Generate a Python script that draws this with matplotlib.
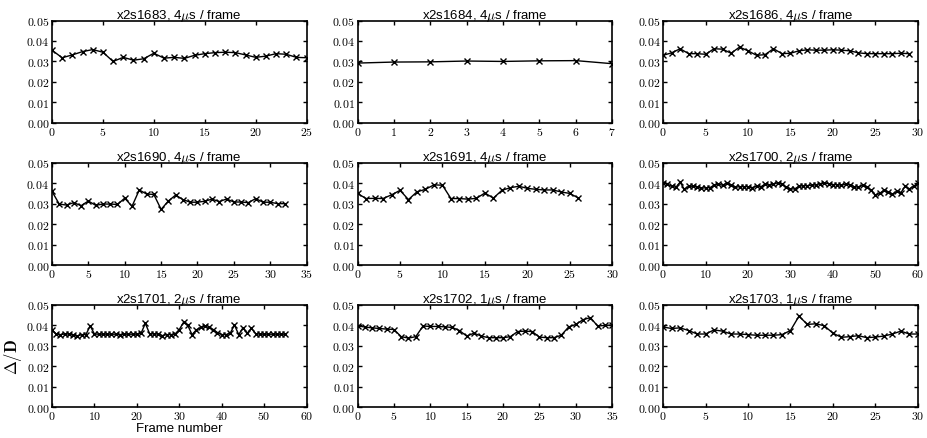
import matplotlib
matplotlib.use("Agg")
import matplotlib.pyplot as plt
from matplotlib.ticker import FuncFormatter, MultipleLocator

plt.rcParams['font.family'] = ['Liberation Sans', 'DejaVu Sans']
plt.rcParams['mathtext.fontset'] = 'cm'

# run names and time step per frame
runs = ["x2s1683", "x2s1684", "x2s1686",
        "x2s1690", "x2s1691", "x2s1700",
        "x2s1701", "x2s1702", "x2s1703"]
steps = [4, 4, 4, 4, 4, 2, 2, 1, 1]
xmax = [25, 7, 30, 35, 30, 60, 60, 35, 30]
xstep = [5, 1, 5, 5, 5, 10, 10, 5, 5]

# Delta/D per frame
d1683 = [0.0355, 0.0318, 0.0332, 0.0348, 0.0358, 0.0345, 0.0300, 0.0320, 0.0306,
         0.0313, 0.0340, 0.0316, 0.0320, 0.0315, 0.0330, 0.0338, 0.0343, 0.0345,
         0.0343, 0.0332, 0.0320, 0.0326, 0.0338, 0.0335, 0.0320, 0.0318]
d1684 = [0.0292, 0.0297, 0.0298, 0.0302, 0.0300, 0.0303, 0.0304, 0.0289]
d1686 = [0.0330, 0.0342, 0.0362, 0.0338, 0.0338, 0.0335, 0.0362, 0.0360, 0.0340,
         0.0370, 0.0352, 0.0330, 0.0333, 0.0362, 0.0338, 0.0340, 0.0352, 0.0357,
         0.0355, 0.0355, 0.0357, 0.0355, 0.0352, 0.0342, 0.0338, 0.0338, 0.0338,
         0.0338, 0.0340, 0.0338]
d1690 = [0.0360, 0.0298, 0.0293, 0.0305, 0.0290, 0.0313, 0.0292, 0.0298, 0.0298,
         0.0296, 0.0327, 0.0287, 0.0367, 0.0347, 0.0345, 0.0272, 0.0313, 0.0342,
         0.0320, 0.0307, 0.0307, 0.0312, 0.0322, 0.0310, 0.0323, 0.0308, 0.0308,
         0.0305, 0.0325, 0.0307, 0.0307, 0.0300, 0.0300]
d1691 = [0.0350, 0.0325, 0.0326, 0.0325, 0.0343, 0.0365, 0.0320, 0.0358, 0.0370,
         0.0392, 0.0390, 0.0325, 0.0325, 0.0322, 0.0326, 0.0352, 0.0327, 0.0365,
         0.0378, 0.0385, 0.0375, 0.0370, 0.0367, 0.0367, 0.0357, 0.0350, 0.0328]
d1700 = [0.0402, 0.0395, 0.0385, 0.0380, 0.0405, 0.0370, 0.0385, 0.0385, 0.0382,
         0.0375, 0.0378, 0.0378, 0.0390, 0.0395, 0.0390, 0.0400, 0.0390, 0.0380,
         0.0383, 0.0383, 0.0383, 0.0378, 0.0385, 0.0382, 0.0395, 0.0390, 0.0395,
         0.0402, 0.0395, 0.0380, 0.0372, 0.0372, 0.0385, 0.0388, 0.0388, 0.0390,
         0.0392, 0.0398, 0.0400, 0.0398, 0.0393, 0.0393, 0.0390, 0.0395, 0.0393,
         0.0383, 0.0380, 0.0390, 0.0380, 0.0365, 0.0342, 0.0350, 0.0365, 0.0355,
         0.0345, 0.0360, 0.0353, 0.0385, 0.0372, 0.0385, 0.0400]
d1701 = [0.0378, 0.0358, 0.0355, 0.0358, 0.0358, 0.0352, 0.0348, 0.0355, 0.0355,
         0.0398, 0.0358, 0.0357, 0.0357, 0.0357, 0.0357, 0.0357, 0.0355, 0.0357,
         0.0357, 0.0357, 0.0357, 0.0362, 0.0410, 0.0360, 0.0358, 0.0358, 0.0350,
         0.0355, 0.0355, 0.0358, 0.0380, 0.0415, 0.0400, 0.0355, 0.0378, 0.0390,
         0.0395, 0.0390, 0.0380, 0.0365, 0.0355, 0.0355, 0.0362, 0.0402, 0.0355,
         0.0388, 0.0362, 0.0385, 0.0360, 0.0357, 0.0357, 0.0357, 0.0357, 0.0357,
         0.0357, 0.0357]
d1702 = [0.0398, 0.0392, 0.0388, 0.0385, 0.0382, 0.0380, 0.0345, 0.0338, 0.0345,
         0.0397, 0.0395, 0.0395, 0.0393, 0.0390, 0.0375, 0.0348, 0.0362, 0.0348,
         0.0340, 0.0340, 0.0340, 0.0345, 0.0370, 0.0372, 0.0370, 0.0343, 0.0340,
         0.0340, 0.0352, 0.0392, 0.0405, 0.0428, 0.0438, 0.0397, 0.0400, 0.0402]
d1703 = [0.0392, 0.0385, 0.0388, 0.0375, 0.0358, 0.0358, 0.0378, 0.0372, 0.0358,
         0.0358, 0.0355, 0.0352, 0.0352, 0.0352, 0.0355, 0.0375, 0.0445, 0.0405,
         0.0408, 0.0398, 0.0362, 0.0342, 0.0345, 0.0350, 0.0340, 0.0343, 0.0348,
         0.0358, 0.0372, 0.0358, 0.0358]
series = [d1683, d1684, d1686, d1690, d1691, d1700, d1701, d1702, d1703]

fig, axes = plt.subplots(3, 3, figsize=(9.28, 4.39), dpi=100)
fig.subplots_adjust(left=0.056, right=0.989, bottom=0.07, top=0.951,
                    wspace=0.2, hspace=0.39)

yfmt = FuncFormatter(lambda v, p: r'$%.2f$' % v)
xfmt = FuncFormatter(lambda v, p: r'$%d$' % round(v))

for ax, run, step, xm, xs, d in zip(axes.flat, runs, steps, xmax, xstep, series):
    ax.plot(range(len(d)), d, color='black', marker='x', markersize=5,
            linewidth=1, markeredgewidth=1)
    ax.set_xlim(0, xm)
    ax.set_ylim(0, 0.05)
    ax.xaxis.set_major_locator(MultipleLocator(xs))
    ax.set_yticks([0, 0.01, 0.02, 0.03, 0.04, 0.05])
    ax.yaxis.set_major_formatter(yfmt)
    ax.xaxis.set_major_formatter(xfmt)
    ax.tick_params(direction='in', top=True, right=True, labelsize=8.5,
                   length=3, width=1, pad=2)
    for s in ax.spines.values():
        s.set_linewidth(1.2)
    ax.set_title(r'%s, %d$\mu$s / frame' % (run, step), fontsize=9.5, pad=2)

axes[2, 0].set_xlabel('Frame number', fontsize=9.5, labelpad=0)
axes[2, 0].set_ylabel(r'$\mathbf{\Delta/D}$', fontsize=12, labelpad=2)

fig.savefig('out.png', dpi=100)
